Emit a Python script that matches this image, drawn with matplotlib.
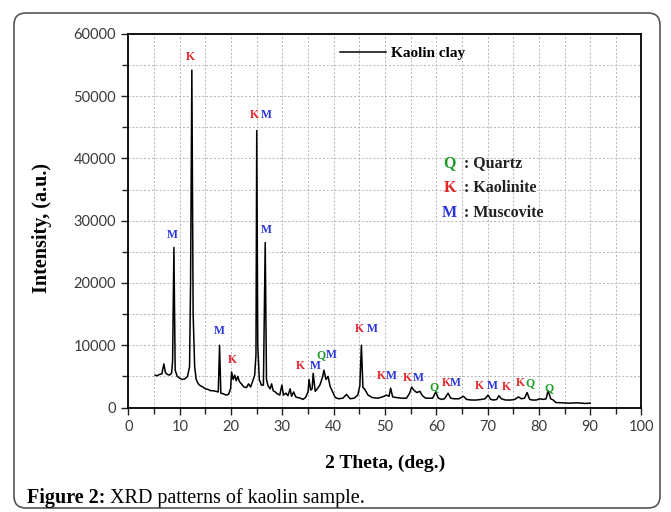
import matplotlib

matplotlib.use("Agg")
import matplotlib.pyplot as plt
from matplotlib.patches import FancyBboxPatch
from matplotlib.ticker import MultipleLocator
from matplotlib.transforms import IdentityTransform

# XRD pattern (2 theta in deg, intensity in a.u.)
two_theta = [
    5.2, 5.6, 6.0, 6.5, 6.9, 7.2, 7.6, 8.0, 8.4, 8.6,
    8.85, 9.1, 9.5, 10.0, 10.5, 11.0, 11.5, 11.9, 12.1, 12.35,
    12.6, 12.9, 13.2, 13.6, 14.0, 14.5, 15.0, 15.5, 16.0, 16.5,
    17.0, 17.5, 17.75, 18.0, 18.5, 19.0, 19.5, 19.9, 20.1, 20.4,
    20.7, 21.0, 21.3, 21.6, 22.0, 22.5, 23.0, 23.4, 23.8, 24.2,
    24.6, 24.85, 25.0, 25.2, 25.5, 25.9, 26.3, 26.65, 26.9, 27.2,
    27.6, 27.9, 28.2, 28.6, 29.0, 29.5, 29.9, 30.2, 30.7, 31.1,
    31.5, 31.8, 32.2, 32.6, 33.0, 33.5, 34.0, 34.5, 35.0, 35.2,
    35.5, 35.8, 36.0, 36.4, 36.8, 37.3, 37.8, 38.1, 38.5, 38.9,
    39.3, 39.8, 40.3, 41.0, 41.8, 42.5, 43.2, 44.0, 44.7, 45.1,
    45.4, 45.7, 46.0, 46.7, 47.5, 48.6, 49.5, 50.3, 50.8, 51.1,
    51.5, 52.2, 53.2, 54.2, 54.8, 55.2, 55.6, 56.2, 56.8, 57.3,
    57.9, 58.6, 59.3, 59.9, 60.4, 61.0, 61.6, 62.3, 62.8, 63.5,
    64.4, 65.3, 65.9, 66.8, 67.8, 68.8, 69.5, 70.1, 70.6, 71.2,
    71.8, 72.2, 72.7, 73.5, 74.5, 75.3, 76.0, 76.6, 77.2, 77.7,
    78.2, 78.8, 79.5, 80.2, 80.9, 81.4, 81.8, 82.3, 82.8, 83.3,
    84.5, 86.0, 87.5, 89.0, 90.0,
]
intensity = [
    5200, 5100, 5300, 5400, 7000, 5600, 5300, 5200, 5500, 7500,
    25700, 6000, 5000, 4700, 4500, 4600, 5000, 6500, 20000, 54200,
    15000, 6500, 4500, 3800, 3500, 3300, 3000, 2900, 2700, 2700,
    2600, 2500, 10000, 2300, 2200, 2000, 2100, 3000, 5700, 4500,
    5200, 4300, 5000, 4200, 3800, 3300, 3200, 3800, 3300, 4200,
    5200, 8500, 44500, 10000, 4500, 3600, 3600, 26500, 4500, 3500,
    3000, 3800, 2700, 2500, 2200, 2000, 3600, 2000, 2300, 1900,
    3000, 1800, 2500, 1700, 1600, 1500, 1300, 1600, 2500, 4500,
    2800, 3000, 5500, 2600, 3000, 3600, 4800, 6000, 4500, 5000,
    3400, 2500, 1600, 1400, 1500, 2100, 1400, 1500, 2000, 3500,
    10000, 3200, 3000, 2000, 1600, 1500, 1700, 2000, 1800, 3100,
    1700, 1600, 1500, 1500, 2300, 3300, 2800, 2400, 2600, 1900,
    1500, 1500, 1500, 2500, 1500, 1300, 1400, 2300, 1500, 1400,
    1400, 1800, 1300, 1200, 1200, 1300, 1400, 2000, 1300, 1200,
    1300, 1900, 1400, 1200, 1200, 1300, 1700, 1400, 1500, 2400,
    1300, 1200, 1200, 1400, 1300, 1400, 2700, 1400, 1200, 800,
    750, 700, 750, 650, 700,
]

# phase labels above the peaks
peak_letters = ["K", "K", "M", "M", "M", "M", "K", "K", "M", "Q", "M",
                "K", "M", "K", "M", "K", "M", "Q", "K", "M", "K", "M",
                "K", "K", "Q", "Q"]
peak_x = [12.1, 24.5, 26.9, 8.5, 26.9, 17.8, 20.3, 33.6, 36.4, 37.5, 39.5,
          45.1, 47.6, 49.3, 51.3, 54.4, 56.5, 59.6, 61.9, 63.8, 68.4, 71.0,
          73.6, 76.4, 78.2, 82.0]
peak_y = [56300, 47000, 47000, 27700, 28500, 12300, 7700, 6600, 6600, 8400,
          8400, 12600, 12600, 5100, 5100, 4700, 4700, 3300, 3900, 3900,
          3500, 3500, 3300, 3900, 3900, 3100]

phase_keys = ["Q", "K", "M"]
phase_names = ["Quartz", "Kaolinite", "Muscovite"]
phase_colors = {"Q": "#1f9a2a", "K": "#e3242b", "M": "#2a35d8"}

serif = "Liberation Serif"

fig = plt.figure(figsize=(6.71, 5.12), dpi=100)
ax = fig.add_axes([0.1915, 0.2041, 0.7645, 0.7295])

ax.plot(two_theta, intensity, color="black", linewidth=1.1, label="Kaolin clay")

ax.set_xlim(0, 100)
ax.set_ylim(0, 60000)
ax.xaxis.set_major_locator(MultipleLocator(10))
ax.xaxis.set_minor_locator(MultipleLocator(5))
ax.yaxis.set_major_locator(MultipleLocator(10000))
ax.yaxis.set_minor_locator(MultipleLocator(5000))
ax.tick_params(which="both", direction="out", width=1.0, colors="#222222",
               labelcolor="#3a3a3a")
ax.tick_params(which="major", length=5, pad=4, labelsize=10.5)
ax.tick_params(which="minor", length=4)
for lab in ax.get_xticklabels() + ax.get_yticklabels():
    lab.set_fontfamily("Lato")
for spine in ax.spines.values():
    spine.set_linewidth(1.3)

ax.grid(True, which="both", color="#b5b5b5", linestyle=(0, (2, 2)),
        linewidth=0.7)
ax.set_axisbelow(True)

ax.set_xlabel("2 Theta, (deg.)", fontfamily=serif, fontweight="bold",
              fontsize=14, va="center")
ax.set_ylabel("Intensity, (a.u.)", fontfamily=serif, fontweight="bold",
              fontsize=14.5, va="center")
ax.xaxis.set_label_coords(0.5, -0.149)
ax.yaxis.set_label_coords(-0.168, 0.48)

for letter, px, py in zip(peak_letters, peak_x, peak_y):
    ax.text(px, py, letter, color=phase_colors[letter], fontfamily=serif,
            fontweight="bold", fontsize=8.5, ha="center", va="center")

# sample legend
ax.legend(loc="center left", bbox_to_anchor=(0.412, 0.949), frameon=False,
          borderpad=0, borderaxespad=0, handlelength=3.0, handletextpad=0.35,
          prop={"family": serif, "weight": "bold", "size": 11})

# phase key
for i, (key, name) in enumerate(zip(phase_keys, phase_names)):
    yk = 39200 - i * 4000
    ax.text(62.6, yk, key, color=phase_colors[key], fontfamily=serif,
            fontweight="bold", fontsize=11.5, ha="center", va="center")
    ax.text(65.4, yk, ": " + name, color="#222222", fontfamily=serif,
            fontweight="bold", fontsize=11.5, ha="left", va="center")

# caption and frame
t1 = fig.text(27 / 671, 1 - 508 / 512, "Figure 2:", fontfamily=serif,
              fontweight="bold", fontsize=14.5, ha="left", va="bottom")
ax.annotate(" XRD patterns of kaolin sample.", xy=(1, 0), xycoords=t1,
            fontfamily=serif, fontsize=14.5, ha="left", va="bottom",
            annotation_clip=False)

frame = FancyBboxPatch((14, 4), 646, 495, boxstyle="round,pad=0,rounding_size=12",
                       transform=IdentityTransform(), facecolor="none",
                       edgecolor="#555555", linewidth=1.2)
fig.patches.append(frame)

fig.savefig("out.png", dpi=100)
plt.close(fig)
